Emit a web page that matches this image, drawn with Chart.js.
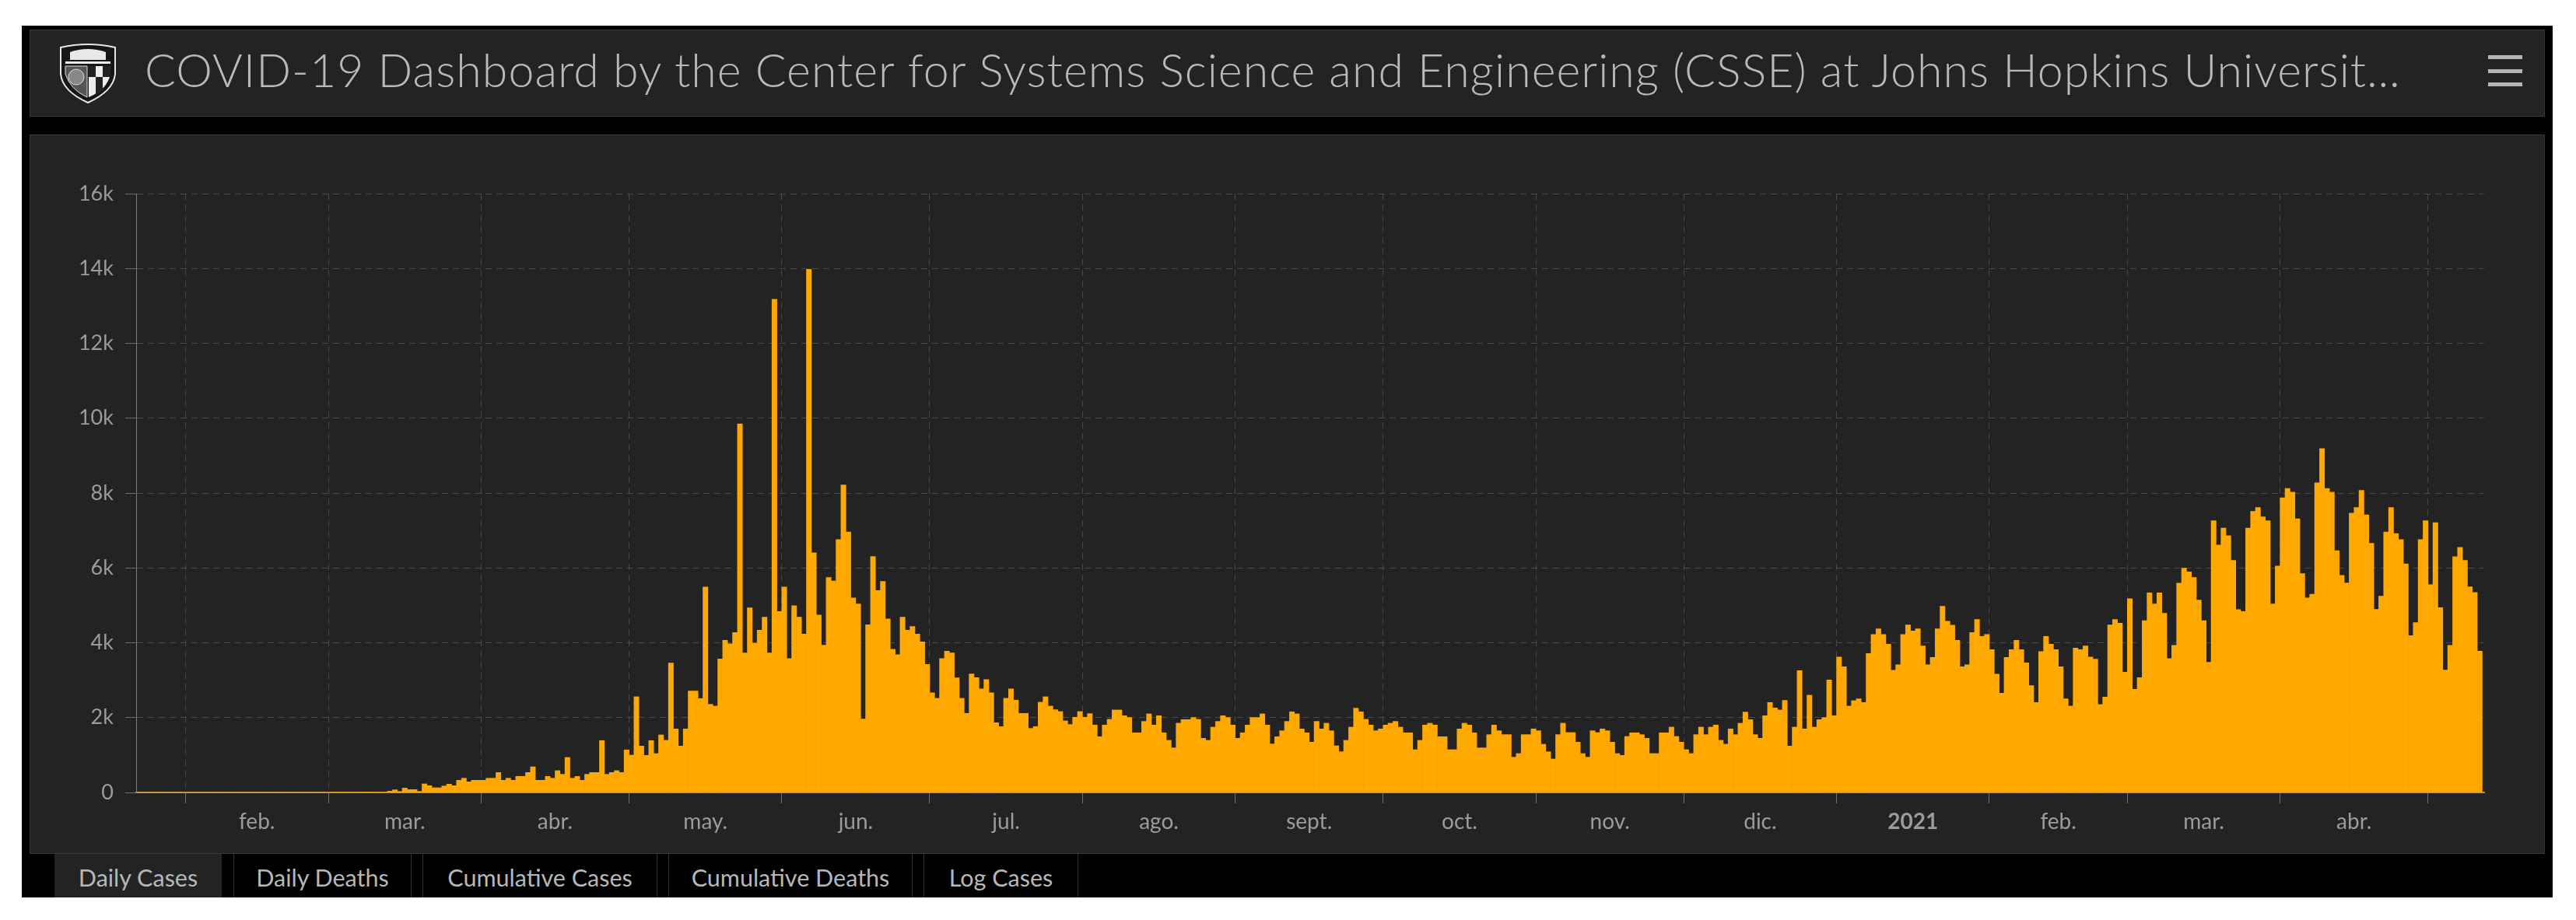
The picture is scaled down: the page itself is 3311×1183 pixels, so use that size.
<!DOCTYPE html>
<html>
<head>
<meta charset="utf-8">
<title>COVID-19 Dashboard</title>
<script src="https://cdn.jsdelivr.net/npm/chart.js@4/dist/chart.umd.min.js"></script>
<style>
  html, body { margin: 0; padding: 0; background: #fff; }
  body { width: 3311px; height: 1183px; position: relative; overflow: hidden; font-family: Lato, "Open Sans", sans-serif; }
  #frame { position: absolute; left: 28px; top: 33px; width: 3253px; height: 1121px; background: #000; }
  .panel { position: absolute; background: #232323; border: 1px solid #3a3a3a; box-sizing: border-box; }
  #header { left: 38px; top: 38px; width: 3233px; height: 112px; }
  #main { left: 38px; top: 173px; width: 3233px; height: 925px; }
  #title { position: absolute; left: 186px; top: 54px; font-size: 59px; font-weight: 300; color: #b6babd; white-space: nowrap; letter-spacing: 1.05px; }
  .bar { position: absolute; left: 3198px; width: 44px; height: 5px; background: #b5b5b5; }
  #crest { position: absolute; left: 76px; top: 55px; }
  .tab { position: absolute; top: 1098px; height: 56px; line-height: 60px; text-align: center; font-size: 30.5px; color: #b4b8bb; box-sizing: border-box; border-right: 1px solid #333; border-left: 1px solid #333; }
  .tab.active { background: #232323; border: none; }
  canvas { position: absolute; left: 0; top: 0; }
</style>
</head>
<body>
<div id="frame"></div>
<div id="header" class="panel"></div>
<div id="main" class="panel"></div>

<svg id="crest" width="74" height="78" viewBox="0 0 74 78">
  <path d="M2 6 Q37 -2 72 6 L72 40 Q70 62 37 77 Q4 62 2 40 Z" fill="#161616" stroke="#e6e6e6" stroke-width="2"/>
  <path d="M14 12 Q37 4 60 12 L60 22 L14 22 Z" fill="#e8e8e8"/>
  <rect x="8" y="24" width="58" height="3" fill="#e8e8e8"/>
  <path d="M8 30 L36 30 L36 70 Q14 60 8 40 Z" fill="#555" stroke="#ddd" stroke-width="1"/>
  <circle cx="22" cy="44" r="10" fill="#888" stroke="#ddd" stroke-width="1"/>
  <path d="M38 30 L66 30 L66 40 Q62 60 38 70 Z" fill="#ededed"/>
  <path d="M38 30 L47 30 L47 44 L38 44 Z M56 30 L66 30 L66 44 L56 44 Z M47 44 L56 44 L56 62 L47 66 Z" fill="#222"/>
</svg>
<div id="title">COVID-19 Dashboard by the Center for Systems Science and Engineering (CSSE) at Johns Hopkins Universit…</div>
<div class="bar" style="top:71px"></div>
<div class="bar" style="top:89px"></div>
<div class="bar" style="top:106px"></div>

<div class="tab active" style="left:70px;width:215px">Daily Cases</div>
<div class="tab" style="left:300px;width:229px">Daily Deaths</div>
<div class="tab" style="left:543px;width:302px">Cumulative Cases</div>
<div class="tab" style="left:859px;width:314px">Cumulative Deaths</div>
<div class="tab" style="left:1187px;width:199px">Log Cases</div>

<canvas id="chart" width="3311" height="1183"></canvas>

<script>
// values, one per day from 22 Jan 2020
const dailyCases = [
  0,0,0,0,0,0,0,0,0,0,0,0,0,0,0,0,0,0,0,0,
  0,0,0,0,0,0,0,0,0,0,0,0,0,0,0,0,0,0,0,0,
  1,0,1,3,0,2,4,5,7,10,14,
  35,70,28,118,76,76,28,229,180,125,125,173,222,180,326,381,284,326,326,326,
  381,381,534,326,381,326,430,430,534,686,326,326,430,381,582,485,936,381,430,326,
  485,534,534,1386,485,534,582,534,1137,998,2557,1240,991,1386,1040,1538,1393,3458,1698,1240,
  1698,2710,2710,2509,5489,2356,2308,3569,4068,3971,4276,9850,3728,4934,3992,4338,4685,3728,13175,4837,
  5489,3576,4990,4685,4234,13975,6403,4740,3936,5745,5648,6757,8219,6958,5198,5038,1961,4484,6306,5398,
  5641,4636,3825,3680,4685,4338,4435,4234,4026,3423,2661,2516,3576,3777,3728,3063,2516,2114,3167,3070,
  2765,3015,2661,1864,1760,2516,2765,2467,2114,2114,1712,1760,2412,2557,2308,2211,2162,1913,1816,2010,
  2162,2010,2107,1802,1490,1802,1954,2204,2204,2051,2003,1594,1594,1899,2100,1802,2051,1594,1393,1192,
  1850,1947,1947,2003,1954,1448,1393,1746,1899,2051,2003,1802,1448,1594,1802,2003,2003,2100,1802,1296,
  1490,1649,1899,2155,2100,1698,1594,1344,1899,1698,1850,1649,1247,1088,1393,1746,2252,2155,1954,1802,
  1649,1698,1802,1850,1899,1746,1594,1594,1143,1393,1802,1850,1802,1490,1490,1143,1143,1698,1850,1802,
  1594,1192,1192,1545,1802,1649,1545,1545,942,1040,1545,1545,1698,1649,1289,1088,894,1545,1850,1601,
  1601,1344,1040,942,1649,1601,1698,1649,1344,1040,991,1497,1594,1594,1545,1448,1040,1040,1594,1594,
  1746,1497,1344,1143,1040,1545,1746,1545,1746,1802,1393,1289,1698,1545,1850,2148,1947,1545,1448,2051,
  2405,2259,2204,2460,1240,1746,3257,1698,2599,1746,1947,2003,3008,2051,3617,3361,2308,2453,2502,2405,
  3714,4220,4373,4220,3964,3264,3410,4220,4477,4317,4373,3915,3410,3610,4373,4976,4574,4470,4068,3361,
  3410,4276,4622,4172,4220,3818,3160,2654,3610,3818,4068,3818,3465,2855,2405,3763,4172,3964,3818,3361,
  2502,2308,3860,3818,3915,3617,3562,2349,2550,4477,4622,4525,3215,5177,2758,3070,4588,5336,5038,5336,
  4789,3576,3929,5593,5994,5897,5745,5142,4588,3479,7263,6611,7062,6861,6202,4886,4837,7062,7512,7616,
  7367,7263,5038,6050,7872,8122,8025,7311,5849,5198,5295,8274,9189,8122,8025,6459,5800,5599,7464,7616,
  8073,7415,6660,4893,5246,6958,7616,6916,6757,6105,4193,4539,6757,7263,5551,7207,4941,3271,3929,6300,
  6549,6202,5495,5343,3777
];

// day offset of each month start, and the label shown inside that month
const monthStarts = [10,39,70,100,131,161,192,223,253,284,314,345,376,404,435,465];
const monthLabels = ['feb.','mar.','abr.','may.','jun.','jul.','ago.','sept.','oct.','nov.','dic.','2021','feb.','mar.','abr.'];
const yTicks = [0,2000,4000,6000,8000,10000,12000,14000,16000];

const labelAt = new Map();
monthLabels.forEach((label, i) => {
  labelAt.set((monthStarts[i] + monthStarts[i + 1]) / 2, label);
});

const gridColor = '#4a4a4a';
const tickColor = '#6e6e6e';
const textColor = '#9b9b9b';

new Chart(document.getElementById('chart'), {
  type: 'bar',
  data: {
    datasets: [{
      data: dailyCases.map((v, i) => ({x: i + 0.5, y: v})),
      backgroundColor: '#ffa800',
      borderWidth: 0,
      barPercentage: 1,
      categoryPercentage: 1
    }]
  },
  options: {
    responsive: false,
    animation: false,
    devicePixelRatio: 1,
    layout: {padding: {top: 249, right: 118, left: 0, bottom: 0}},
    plugins: {legend: {display: false}, tooltip: {enabled: false}},
    scales: {
      x: {
        type: 'linear',
        min: 0,
        max: 476.4,
        offset: false,
        afterFit: scale => { scale.height = 164; },
        afterBuildTicks: scale => {
          const starts = monthStarts.map(v => ({value: v}));
          const mids = [...labelAt.keys()].map(v => ({value: v}));
          scale.ticks = starts.concat(mids).sort((a, b) => a.value - b.value);
        },
        border: {color: '#a8966a', width: 2, dash: [8, 6]},
        grid: {
          offset: false,
          lineWidth: 1,
          tickLength: 14,
          color: c => labelAt.has(c.tick && c.tick.value) ? 'transparent' : gridColor,
          tickColor: c => labelAt.has(c.tick && c.tick.value) ? 'transparent' : tickColor
        },
        ticks: {
          autoSkip: false,
          maxRotation: 0,
          padding: 7,
          color: textColor,
          font: c => ({family: 'Lato', size: 28, weight: (labelAt.get(c.tick && c.tick.value) === '2021') ? 'bold' : 'normal'}),
          callback: v => labelAt.get(v) || ''
        }
      },
      y: {
        min: 0,
        max: 16000,
        afterFit: scale => { scale.width = 175; },
        afterBuildTicks: scale => { scale.ticks = yTicks.map(v => ({value: v})); },
        border: {color: '#7a7a7a', width: 1, dash: [8, 6]},
        grid: {color: gridColor, lineWidth: 1, tickLength: 14, tickColor: tickColor},
        ticks: {
          padding: 15,
          color: textColor,
          font: {family: 'Lato', size: 27},
          callback: v => v === 0 ? '0' : (v / 1000) + 'k'
        }
      }
    }
  }
});
</script>
</body>
</html>
